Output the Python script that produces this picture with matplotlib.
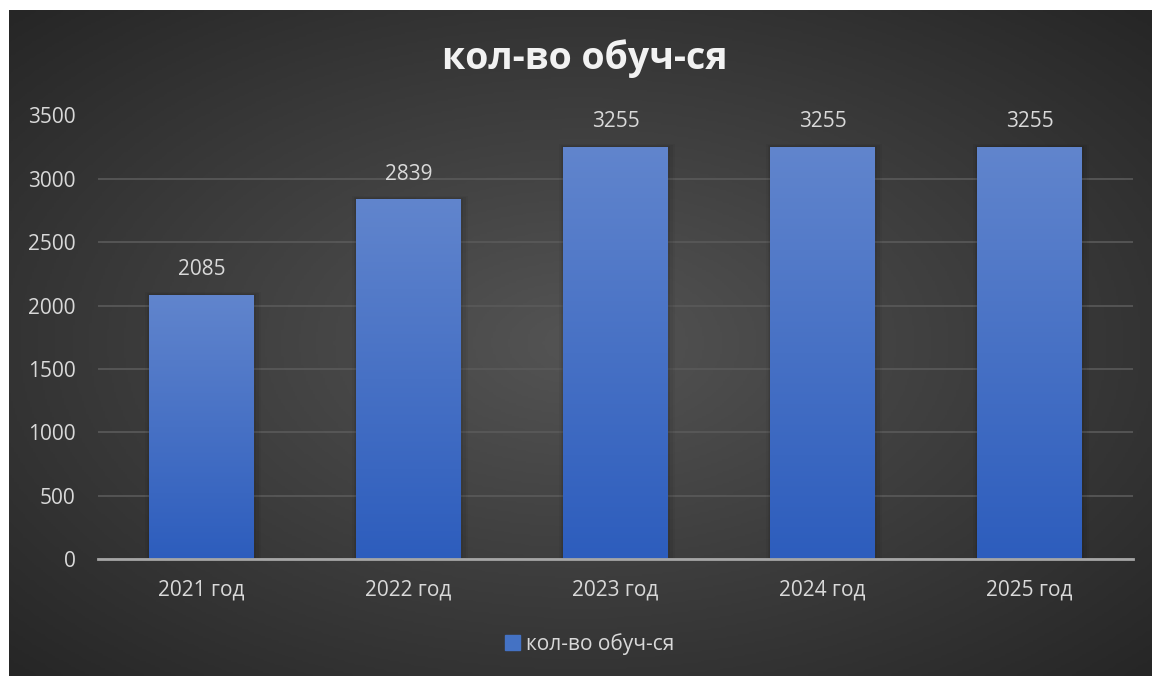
import numpy as np
import matplotlib.pyplot as plt
from matplotlib.colors import LinearSegmentedColormap
from matplotlib.patches import Rectangle

years = ["2021 год", "2022 год", "2023 год", "2024 год", "2025 год"]
students = [2085, 2839, 3255, 3255, 3255]
series_name = "кол-во обуч-ся"

plt.rcParams['font.family'] = ['Open Sans', 'DejaVu Sans']

W, H = 1152, 676
fig = plt.figure(figsize=(W / 100, H / 100), dpi=100, facecolor="white")

# dark radial background (white strip on top/left as in reference)
bg = fig.add_axes([9 / W, 0, 1 - 9 / W, 1 - 10 / H])
yy, xx = np.mgrid[-1:1:300j, -1:1:500j]
r = np.sqrt(xx ** 2 + yy ** 2) / np.sqrt(2)
bg_cmap = LinearSegmentedColormap.from_list("bg", ["#545454", "#262626"])
bg.imshow(r, cmap=bg_cmap, aspect="auto", extent=[0, 1, 0, 1], vmin=0, vmax=1)
bg.set_axis_off()

# plot area
left, right, top, bottom = 98, 1133, 115.5, 559
ax = fig.add_axes([left / W, 1 - bottom / H, (right - left) / W, (bottom - top) / H])
ax.set_facecolor("none")
ax.set_zorder(2)

x = np.arange(len(years))
bars = ax.bar(x, students, width=0.507, color="none", zorder=3)

grad = np.linspace(0, 1, 256).reshape(-1, 1)
bar_cmap = LinearSegmentedColormap.from_list("bar", ["#2d5dbd", "#6185cd"])
for b in bars:
    x0, w, h = b.get_x(), b.get_width(), b.get_height()
    # soft shadow
    for k, a in enumerate([0.06, 0.05, 0.04]):
        d = 0.012 * (k + 1)
        ax.add_patch(Rectangle((x0 - d * 0.5, 0), w + d * 1.5, h + 8 * (k + 1),
                               color="black", alpha=a, lw=0, zorder=2))
    im = ax.imshow(grad, cmap=bar_cmap, aspect="auto", origin="lower",
                   extent=[x0, x0 + w, 0, h], zorder=3)
    im.set_clip_path(b)
    ax.annotate(str(h), (x0 + w / 2, h), xytext=(0, 18), textcoords="offset points",
                ha="center", va="center", color="#d9d9d9", fontsize=15)

ax.set_xlim(-0.5, len(years) - 0.5)
ax.set_ylim(0, 3500)
ax.set_yticks(np.arange(0, 3501, 500))
ax.set_xticks(x)
ax.set_xticklabels(years)
ax.tick_params(axis="both", length=0, colors="#d9d9d9", labelsize=15)
ax.tick_params(axis="y", pad=16)
ax.tick_params(axis="x", pad=15)
ax.grid(axis="y", color="#5a5a5a", lw=1.2, zorder=1)
ax.set_axisbelow(True)
for s in ["top", "right", "left"]:
    ax.spines[s].set_visible(False)
ax.spines["bottom"].set_color("#a6a6a6")
ax.spines["bottom"].set_linewidth(2)
ax.spines["bottom"].set_zorder(4)

fig.text(585 / W, 1 - 59 / H, series_name, ha="center", va="center",
         color="#f2f2f2", fontsize=27, fontweight="bold")

handle = Rectangle((0, 0), 1, 1, color="#4472c4")
fig.legend([handle], [series_name], loc="center", bbox_to_anchor=(590 / W, 1 - 644 / H),
           frameon=False, labelcolor="#d9d9d9", fontsize=15,
           handlelength=0.7, handleheight=0.7, handletextpad=0.3)

fig.savefig("out.png", dpi=100, facecolor="white")
